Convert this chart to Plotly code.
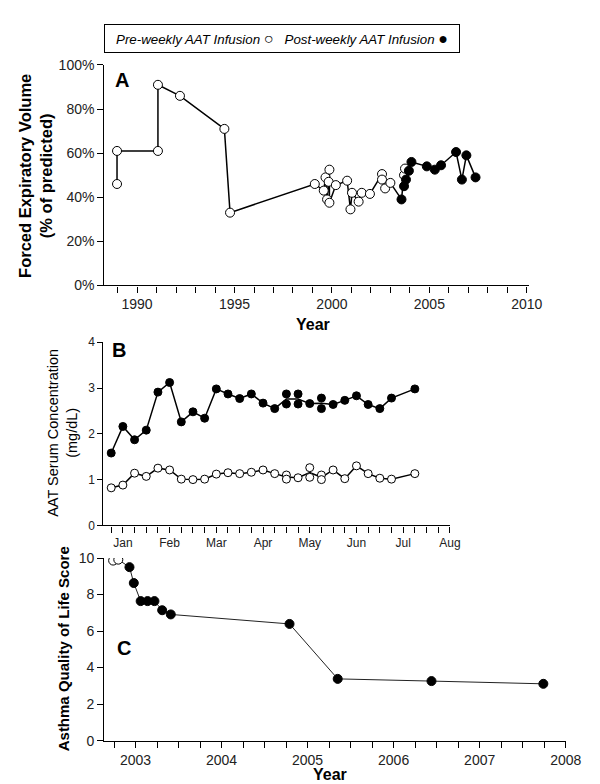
import plotly.graph_objects as go

W, H = 600, 784

# ---- Panel A: FEV1 (% of predicted) by year
a_pre_year = [1988.97, 1988.97, 1991.07, 1991.07, 1992.2, 1994.48, 1994.77, 1999.12,
              1999.58, 1999.67, 1999.75, 1999.87, 1999.83, 1999.87, 2000.2, 2000.78,
              2001.03, 2000.95, 2001.37, 2001.53, 2001.95, 2002.57, 2002.57, 2002.73,
              2003.0, 2003.7, 2003.75]
a_pre_fev = [46, 61, 61, 91, 86, 71, 33, 46,
             43, 49, 39, 52.5, 47, 37.5, 45.5, 47.5,
             42, 34.5, 38, 42, 41.5, 50.5, 48, 44,
             46.5, 50, 53]
a_post_year = [2003.57, 2003.7, 2003.8, 2003.95, 2004.08, 2004.87, 2005.28, 2005.6,
               2006.37, 2006.67, 2006.9, 2007.37]
a_post_fev = [39, 45, 48, 52, 56, 54, 52.5, 54.5, 60.5, 48, 59, 49]
a_ticks = [0, 20, 40, 60, 80, 100]

# ---- Panel B: AAT serum concentration by week (Jan..Aug)
month_labels = ["Jan", "Feb", "Mar", "Apr", "May", "Jun", "Jul", "Aug"]
b_weeks = [0, 1, 2, 3, 4, 5, 6, 7, 8, 9, 10, 11, 12, 13, 14, 15, 16, 17, 18, 19,
           20, 21, 22, 23, 24, 26]
b_post = [[1.58], [2.16], [1.87], [2.08], [2.91], [3.12], [2.26], [2.48], [2.34],
          [2.98], [2.87], [2.77], [2.87], [2.67], [2.55], [2.87, 2.65], [2.87, 2.65],
          [2.66], [2.78, 2.55], [2.64], [2.73], [2.83], [2.64], [2.55], [2.78], [2.98]]
b_pre = [[0.82], [0.88], [1.14], [1.07], [1.25], [1.21], [1.01], [1.00], [1.01],
         [1.12], [1.15], [1.13], [1.16], [1.21], [1.13], [1.10, 1.01], [1.04],
         [1.26, 1.05], [1.10, 1.00], [1.21], [1.02], [1.30], [1.13], [1.03], [1.01],
         [1.13]]

# ---- Panel C: Asthma quality of life score
c_pre_year = [2002.74, 2002.80]
c_pre_score = [9.86, 9.91]
c_post_year = [2002.93, 2002.98, 2003.06, 2003.14, 2003.22, 2003.31, 2003.41,
               2004.79, 2005.35, 2006.44, 2007.74]
c_post_score = [9.5, 8.63, 7.64, 7.64, 7.64, 7.14, 6.91, 6.39, 3.38, 3.26, 3.11]

FONT = "Arial, Liberation Sans, sans-serif"
OPEN = dict(symbol="circle", color="white", line=dict(color="black", width=1))
FILLED = dict(symbol="circle", color="black", line=dict(color="black", width=1))


def px_x(p):
    return p / W


def px_y(p):
    return 1 - p / H


def flat(weeks, reps):
    xs, ys = [], []
    for w, r in zip(weeks, reps):
        for v in r:
            xs.append(w)
            ys.append(v)
    return xs, ys


fig = go.Figure()

# panel A
a_all = sorted(zip(a_pre_year + a_post_year, a_pre_fev + a_post_fev),
               key=lambda t: t[0])
fig.add_trace(go.Scatter(x=[t[0] for t in a_all], y=[t[1] for t in a_all],
                         mode="lines", line=dict(color="black", width=1.5),
                         xaxis="x", yaxis="y", showlegend=False))
fig.add_trace(go.Scatter(x=a_pre_year, y=a_pre_fev, mode="markers",
                         marker=dict(size=9, **OPEN), xaxis="x", yaxis="y",
                         showlegend=False))
fig.add_trace(go.Scatter(x=a_post_year, y=a_post_fev, mode="markers",
                         marker=dict(size=9, **FILLED), xaxis="x", yaxis="y",
                         showlegend=False))

# panel B
for reps, mk in [(b_pre, OPEN), (b_post, FILLED)]:
    means = [sum(r) / len(r) for r in reps]
    fig.add_trace(go.Scatter(x=b_weeks, y=means, mode="lines",
                             line=dict(color="black", width=1.5),
                             xaxis="x2", yaxis="y2", showlegend=False))
    xs, ys = flat(b_weeks, reps)
    fig.add_trace(go.Scatter(x=xs, y=ys, mode="markers",
                             marker=dict(size=8, **mk),
                             xaxis="x2", yaxis="y2", showlegend=False))

# panel C
fig.add_trace(go.Scatter(x=c_pre_year + c_post_year, y=c_pre_score + c_post_score,
                         mode="lines", line=dict(color="#222", width=1),
                         xaxis="x3", yaxis="y3", showlegend=False))
fig.add_trace(go.Scatter(x=c_pre_year, y=c_pre_score, mode="markers",
                         marker=dict(size=9, **OPEN), xaxis="x3", yaxis="y3",
                         showlegend=False))
fig.add_trace(go.Scatter(x=c_post_year, y=c_post_score, mode="markers",
                         marker=dict(size=9, **FILLED), xaxis="x3", yaxis="y3",
                         showlegend=False))

axis_common = dict(showline=True, linecolor="black", linewidth=1.3,
                   ticks="outside", ticklen=6, tickwidth=1.2, tickcolor="black",
                   showgrid=False, zeroline=False,
                   tickfont=dict(family=FONT, size=14, color="#222"))

fig.update_layout(
    width=W, height=H,
    margin=dict(l=0, r=0, t=0, b=0),
    paper_bgcolor="white", plot_bgcolor="white",
    font=dict(family=FONT, color="black"),
    xaxis=dict(axis_common, domain=[px_x(99), px_x(535)], range=[1988.32, 2010.1],
               tickvals=[1990, 1995, 2000, 2005, 2010], anchor="y",
               minor=dict(dtick=1, ticks="outside", ticklen=6, tickcolor="black")),
    yaxis=dict(axis_common, domain=[px_y(275), px_y(50)], range=[0, 100],
               tickvals=a_ticks, ticktext=["%d%%" % v for v in a_ticks], anchor="x"),
    xaxis2=dict(axis_common, domain=[px_x(98), px_x(454)], range=[-0.67, 29],
                tickvals=[1, 5, 9, 13, 17, 21, 25, 29], ticktext=month_labels,
                tickfont=dict(family=FONT, size=12, color="#222"), anchor="y2",
                minor=dict(dtick=1, ticks="outside", ticklen=6, tickcolor="black")),
    yaxis2=dict(axis_common, domain=[px_y(520), px_y(333)], range=[0, 4],
                tickvals=[0, 1, 2, 3, 4], ticklen=5,
                tickfont=dict(family=FONT, size=12, color="#222"), anchor="x2"),
    xaxis3=dict(axis_common, domain=[px_x(99), px_x(573)], range=[2002.638, 2008.0],
                tickvals=[2003, 2004, 2005, 2006, 2007, 2008], anchor="y3",
                minor=dict(dtick=0.25, ticks="outside", ticklen=6, tickcolor="black")),
    yaxis3=dict(axis_common, domain=[px_y(739.7), px_y(553.3)], range=[0, 10],
                tickvals=[0, 2, 4, 6, 8, 10], anchor="x3"),
)

ann = []


def label(text, cx, cy, size, angle=0, **kw):
    ann.append(dict(x=px_x(cx), y=px_y(cy), xref="paper", yref="paper",
                    text=text, textangle=angle, showarrow=False,
                    xanchor="center", yanchor="middle",
                    font=dict(family=FONT, size=size, color="black"), **kw))


big = "<span style='font-size:16px'>%s</span>"
label("<i>Pre-weekly AAT Infusion </i>" + big % "○" +
      "<i>   Post-weekly AAT Infusion </i>" + big % "●", 281, 22.5, 13.3,
      bordercolor="black", borderwidth=1, borderpad=4, width=346, height=19)
label("<b>Forced Expiratory Volume<br>(% of predicted)</b>", 28, 163, 16.5, -90)
label("AAT Serum Concentration<br>(mg/dL)", 56, 426, 14.5, -90)
label("<b>Asthma Quality of Life Score</b>", 57, 646, 15, -90)
label("<b>Year</b>", 313, 315, 16)
label("<b>Year</b>", 331, 774, 16)
for letter, cx, cy in [("A", 117, 65), ("B", 114, 341), ("C", 119, 645)]:
    label("<b>%s</b>" % letter, cx, cy, 20)
fig.update_layout(annotations=ann)

fig.write_html("out.html")
